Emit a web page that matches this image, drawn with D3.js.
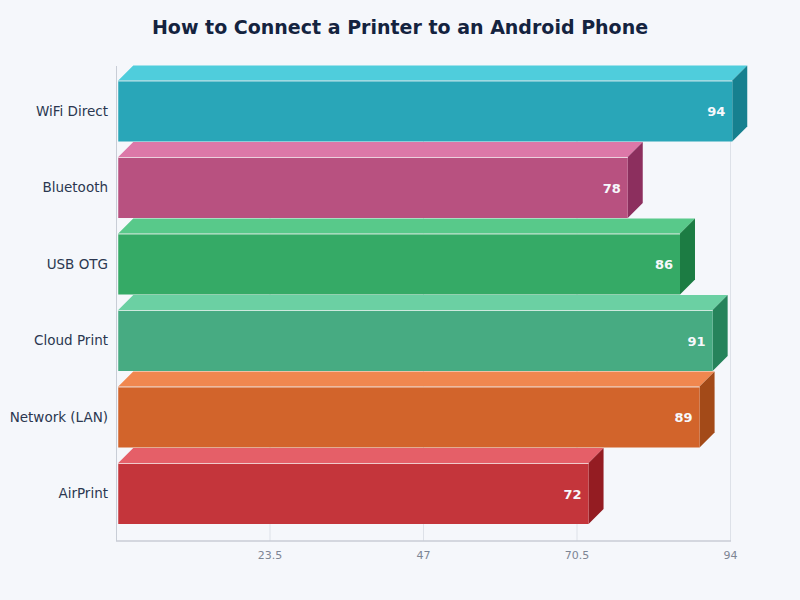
<!DOCTYPE html>
<html>
<head>
<meta charset="utf-8">
<script src="https://cdn.jsdelivr.net/npm/d3@7"></script>
<style>
  html, body { margin: 0; padding: 0; background: #f5f7fb; }
  svg { display: block; font-family: "DejaVu Sans", sans-serif; }
</style>
</head>
<body>
<div id="chart"></div>
<script>
var methods = ["WiFi Direct", "Bluetooth", "USB OTG", "Cloud Print", "Network (LAN)", "AirPrint"];
var scores = [94, 78, 86, 91, 89, 72];
var frontColors = ["#29a6b8", "#b85180", "#35aa66", "#47ab82", "#d2642b", "#c4353b"];
var topColors = ["#4fcddc", "#dc78a8", "#58c98a", "#6bd0a3", "#f0874f", "#e55f68"];
var sideColors = ["#16808f", "#8c2f5e", "#1c7c43", "#26835b", "#a34a18", "#941c22"];
var tickValues = [23.5, 47, 70.5, 94];

var width = 800, height = 600;
var depth = 15;
var barOffset = 1.75; // bars sit slightly right of the axis line

var svg = d3.select("#chart").append("svg")
    .attr("width", width)
    .attr("height", height);

svg.append("rect")
    .attr("width", width)
    .attr("height", height)
    .attr("fill", "#f5f7fb");

svg.append("text")
    .attr("x", 400)
    .attr("y", 34)
    .attr("text-anchor", "middle")
    .attr("font-size", 19)
    .attr("font-weight", "bold")
    .attr("fill", "#14233f")
    .text("How to Connect a Printer to an Android Phone");

var x = d3.scaleLinear().domain([0, 94]).range([116.5, 730.5]);
var y = d3.scaleBand().domain(methods).range([72.75, 531.75]).paddingInner(0.2026).paddingOuter(0.1013);

// grid + frame
svg.selectAll(".grid").data(tickValues).enter().append("line")
    .attr("class", "grid")
    .attr("x1", function(d) { return x(d); })
    .attr("x2", function(d) { return x(d); })
    .attr("y1", 66)
    .attr("y2", 541)
    .attr("stroke", "#dde1e8")
    .attr("stroke-width", 1);

svg.append("line")
    .attr("x1", 116.5).attr("x2", 116.5)
    .attr("y1", 66).attr("y2", 541)
    .attr("stroke", "#c8cdd6");

svg.append("line")
    .attr("x1", 116).attr("x2", 731)
    .attr("y1", 541).attr("y2", 541)
    .attr("stroke", "#c8cdd6")
    .attr("stroke-width", 1.5);

// bars, top to bottom so each top face overlaps the bar above
var bars = svg.selectAll(".bar").data(methods).enter().append("g")
    .attr("class", "bar");

bars.each(function(d, i) {
    var g = d3.select(this);
    var x0 = x(0) + barOffset;
    var x1 = x(scores[i]) + barOffset;
    var y0 = y(d);
    var y1 = y0 + y.bandwidth();

    g.append("polygon")
        .attr("points", [[x0, y0], [x0 + depth, y0 - depth], [x1 + depth, y0 - depth], [x1, y0]].join(" "))
        .attr("fill", topColors[i]);

    g.append("polygon")
        .attr("points", [[x1, y0], [x1 + depth, y0 - depth], [x1 + depth, y1 - depth], [x1, y1]].join(" "))
        .attr("fill", sideColors[i]);

    g.append("rect")
        .attr("x", x0)
        .attr("y", y0)
        .attr("width", x1 - x0)
        .attr("height", y1 - y0)
        .attr("fill", frontColors[i]);

    g.append("line")
        .attr("x1", x0).attr("x2", x1)
        .attr("y1", y0 + 0.5).attr("y2", y0 + 0.5)
        .attr("stroke", "#ffffff")
        .attr("stroke-opacity", 0.75);

    g.append("text")
        .attr("x", x1 - 7)
        .attr("y", (y0 + y1) / 2 + 1.5)
        .attr("text-anchor", "end")
        .attr("dominant-baseline", "middle")
        .attr("font-size", 13)
        .attr("font-weight", "bold")
        .attr("fill", "#f6f8fc")
        .text(scores[i]);

    svg.append("text")
        .attr("x", 108)
        .attr("y", (y0 + y1) / 2 + 0.5)
        .attr("text-anchor", "end")
        .attr("dominant-baseline", "middle")
        .attr("font-size", 13.5)
        .attr("fill", "#2b3750")
        .text(d);
});

// x tick labels
svg.selectAll(".tick-label").data(tickValues).enter().append("text")
    .attr("class", "tick-label")
    .attr("x", function(d) { return x(d); })
    .attr("y", 559)
    .attr("text-anchor", "middle")
    .attr("font-size", 11)
    .attr("fill", "#7d8594")
    .text(function(d) { return d; });
</script>
</body>
</html>
